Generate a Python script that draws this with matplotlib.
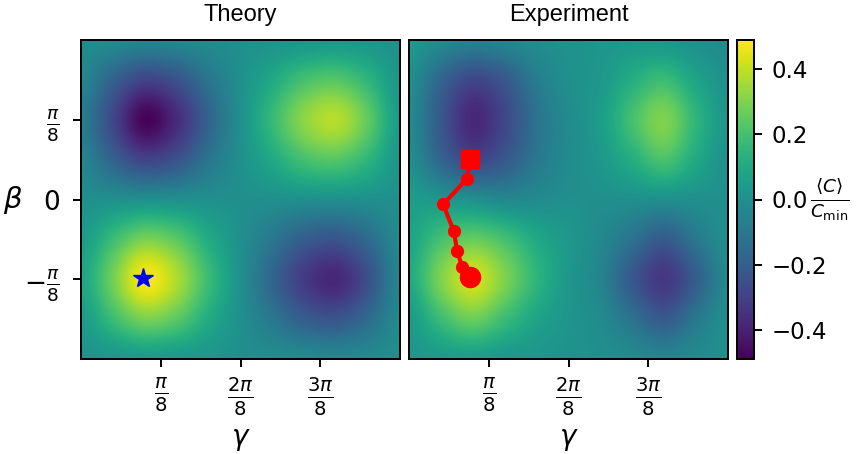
import numpy as np
import matplotlib
matplotlib.use("Agg")
import matplotlib.pyplot as plt

# sample nodes of the landscape (gamma along x, beta along y, top row = beta = pi/4)
gamma_nodes = np.linspace(0, np.pi / 2, 11)
beta_nodes = np.linspace(np.pi / 4, -np.pi / 4, 9)

# <C>/C_min at the nodes above
theory = np.array([
    [-0.01, -0.02, -0.04, -0.03, -0.02, 0.00, 0.01, 0.02, 0.03, 0.02, 0.00],
    [-0.04, -0.18, -0.29, -0.24, -0.11, 0.00, 0.10, 0.20, 0.23, 0.15, 0.02],
    [-0.08, -0.28, -0.48, -0.37, -0.18, 0.00, 0.17, 0.32, 0.38, 0.25, 0.04],
    [-0.04, -0.18, -0.29, -0.24, -0.11, 0.00, 0.10, 0.20, 0.23, 0.15, 0.02],
    [0.00, 0.00, 0.00, 0.00, 0.00, 0.00, 0.00, 0.00, 0.00, 0.00, 0.00],
    [0.04, 0.18, 0.29, 0.24, 0.11, 0.00, -0.10, -0.20, -0.23, -0.15, -0.02],
    [0.08, 0.28, 0.48, 0.37, 0.18, 0.00, -0.17, -0.32, -0.38, -0.25, -0.04],
    [0.04, 0.18, 0.29, 0.24, 0.11, 0.00, -0.10, -0.20, -0.23, -0.15, -0.02],
    [0.01, 0.02, 0.04, 0.03, 0.02, 0.00, -0.01, -0.02, -0.03, -0.02, 0.00],
])

# same for the Experiment panel
experiment = np.array([
    [0.04, -0.02, -0.06, -0.04, -0.01, 0.01, 0.02, 0.03, 0.02, 0.00, -0.02],
    [0.00, -0.17, -0.28, -0.22, -0.08, 0.00, 0.03, 0.12, 0.18, 0.08, 0.00],
    [-0.02, -0.22, -0.38, -0.28, -0.12, -0.02, 0.05, 0.20, 0.30, 0.15, 0.02],
    [0.00, -0.17, -0.28, -0.22, -0.10, -0.02, 0.03, 0.12, 0.21, 0.10, 0.00],
    [0.05, 0.03, 0.00, -0.03, -0.02, 0.00, 0.00, 0.00, 0.00, 0.00, 0.00],
    [0.08, 0.20, 0.26, 0.20, 0.10, 0.03, -0.03, -0.12, -0.21, -0.10, 0.00],
    [0.10, 0.30, 0.42, 0.30, 0.15, 0.03, -0.05, -0.22, -0.33, -0.20, -0.02],
    [0.04, 0.18, 0.27, 0.18, 0.08, 0.02, -0.02, -0.12, -0.21, -0.10, 0.00],
    [0.02, 0.04, 0.05, 0.03, 0.02, 0.01, 0.00, -0.02, -0.04, -0.02, 0.00],
])

# optimizer path on the experiment (start = square, end = big circle)
path_gamma = [0.302, 0.286, 0.168, 0.221, 0.237, 0.262, 0.302]
path_beta = [0.200, 0.102, -0.024, -0.157, -0.253, -0.333, -0.382]

# theoretical optimum
opt_gamma = 0.304
opt_beta = -0.385

xtick_vals = [np.pi / 8, 2 * np.pi / 8, 3 * np.pi / 8]
xtick_labels = [r"$\frac{\pi}{8}$", r"$\frac{2\pi}{8}$", r"$\frac{3\pi}{8}$"]
ytick_vals = [-np.pi / 8, 0, np.pi / 8]
ytick_labels = [r"$-\frac{\pi}{8}$", r"$0$", r"$\frac{\pi}{8}$"]
cbar_ticks = [-0.4, -0.2, 0.0, 0.2, 0.4]

vmin, vmax = -0.49, 0.49

W, H = 858, 454
fig = plt.figure(figsize=(W / 100, H / 100), dpi=100)

def box(x0, y0, x1, y1):
    return [x0 / W, 1 - y1 / H, (x1 - x0) / W, (y1 - y0) / H]

ax1 = fig.add_axes(box(81, 40, 400, 359))
ax2 = fig.add_axes(box(409, 40, 728, 359))
cax = fig.add_axes(box(737, 40, 754, 359))

dx = (gamma_nodes[1] - gamma_nodes[0]) / 2
dy = (beta_nodes[0] - beta_nodes[1]) / 2
ext = [gamma_nodes[0] - dx, gamma_nodes[-1] + dx, beta_nodes[-1] - dy, beta_nodes[0] + dy]

for ax, data, title in [(ax1, theory, "Theory"), (ax2, experiment, "Experiment")]:
    im = ax.imshow(data, cmap="viridis", vmin=vmin, vmax=vmax, extent=ext,
                   origin="upper", aspect="auto", interpolation="catrom")
    ax.set_xlim(0, np.pi / 2)
    ax.set_ylim(-np.pi / 4, np.pi / 4)
    ax.set_xticks(xtick_vals)
    ax.set_xticklabels(xtick_labels, fontsize=20)
    ax.set_xlabel(r"$\gamma$", fontsize=20, labelpad=5)
    ax.set_title(title, fontsize=17, family="Liberation Sans", pad=14)
    ax.tick_params(axis="x", width=1.4, length=6, pad=6)
    for s in ax.spines.values():
        s.set_linewidth(1.4)

ax1.set_yticks(ytick_vals)
ax1.set_yticklabels(ytick_labels, fontsize=19)
ax1.tick_params(axis="y", width=1.4, length=6, pad=9)
ax1.set_ylabel(r"$\beta$", fontsize=21, rotation=0, va="center", labelpad=8)
ax2.set_yticks([])

ax1.plot(opt_gamma, opt_beta, marker="*", color="blue", markersize=15, linestyle="none")

ax2.plot(path_gamma, path_beta, color="red", linewidth=3, marker="o", markersize=8.5)
ax2.plot(path_gamma[0], path_beta[0], marker="s", color="red", markersize=13.5)
ax2.plot(path_gamma[-1], path_beta[-1], marker="o", color="red", markersize=14.5)

cb = fig.colorbar(im, cax=cax, ticks=cbar_ticks)
cb.ax.tick_params(labelsize=16.5, width=1.4, length=6, pad=6.5)
cb.outline.set_linewidth(1.4)
fig.text(810 / W, 1 - 200 / H, r"$\frac{\langle C\rangle}{C_{\min}}$",
         fontsize=19, va="center", ha="left")

fig.savefig("out.png", dpi=100)
